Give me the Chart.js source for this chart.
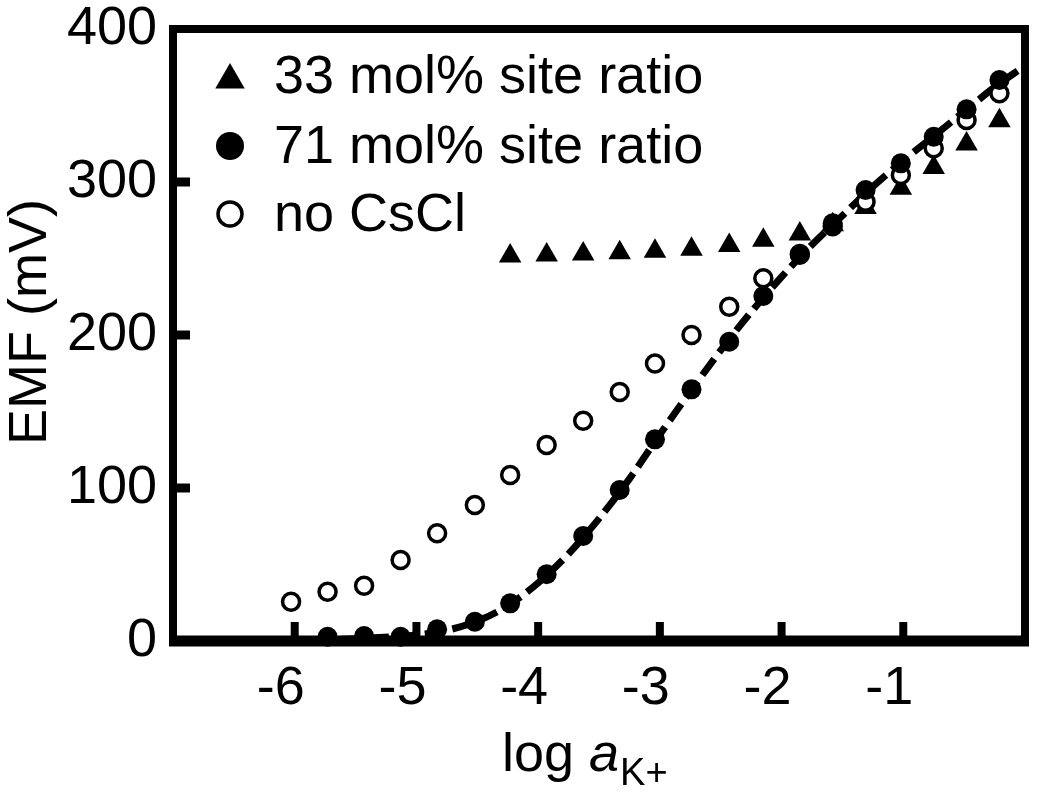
<!DOCTYPE html>
<html>
<head>
<meta charset="utf-8">
<script src="https://cdn.jsdelivr.net/npm/chart.js@4/dist/chart.umd.min.js"></script>
<style>
  html, body { margin: 0; padding: 0; background: #fff; }
  #wrap { width: 1050px; height: 805px; }
</style>
</head>
<body>
<div id="wrap"><canvas id="chart" width="1050" height="805"></canvas></div>
<script>
// log a(K+) of each standard
const logA = [-6.03, -5.73, -5.43, -5.13, -4.83, -4.52, -4.23, -3.93, -3.63, -3.33,
              -3.04, -2.74, -2.43, -2.15, -1.85, -1.58, -1.31, -1.02, -0.75, -0.48, -0.21];

// EMF (mV)
const noCsCl = [25.7, 32.2, 36.1, 52.9, 70.4, 88.9, 108.5, 128.1, 144.0, 162.7,
                181.4, 200.0, 218.5, 237.1, 253.0, 271.0, 287.1, 304.6, 322.0, 340.5, 358.0];
const site71 = [null, 2.8, 3.3, 2.8, 7.6, 12.6, 24.6, 43.6, 68.6, 98.7,
                131.8, 164.5, 195.6, 225.5, 252.3, 273.0, 294.8, 312.2, 329.6, 347.5, 366.7];
const site33 = [null, null, null, null, null, null, 251.6, 252.3, 252.9, 253.7,
                254.7, 256.0, 258.5, 261.9, 266.0, 272.0, 283.3, 295.9, 309.5, 324.8, 340.0];

// fitted response curve for 71 mol%
const fitX = [-7, -6, -5.5, -5, -4.75, -4.5, -4.25, -4, -3.75, -3.5, -3.25, -3,
              -2.75, -2.5, -2.25, -2, -1.75, -1.5, -1.25, -1, -0.75, -0.5, -0.25, 0];
const fitY = [0, 0.5, 1.5, 4, 7, 13, 23, 38, 57, 80, 106, 135,
              163, 190, 215, 238, 259, 278, 297, 314, 330, 346, 362, 376];

const xTicks = [-6, -5, -4, -3, -2, -1];
const yTicks = [100, 200, 300];

const FONT = '"Liberation Sans", Arial, Helvetica, sans-serif';
Chart.defaults.font.family = FONT;
Chart.defaults.color = "#000";

const pts = (xs, ys) => xs.map((x, i) => ({ x: x, y: ys[i] })).filter(p => p.y !== null);

// frame, inward ticks, legend and axis titles
const decor = {
    id: "decor",
    beforeDatasetsDraw(chart) {
        const { ctx, chartArea: a, scales } = chart;
        ctx.save();
        ctx.strokeStyle = "#000";
        ctx.lineWidth = 8;
        ctx.strokeRect(a.left, a.top, a.right - a.left, a.bottom - a.top);
        ctx.lineWidth = 11;
        ctx.beginPath();
        ctx.moveTo(a.left - 4, a.bottom);
        ctx.lineTo(a.right + 4, a.bottom);
        ctx.stroke();

        ctx.lineWidth = 8;
        xTicks.forEach(v => {
            const px = scales.x.getPixelForValue(v);
            ctx.beginPath();
            ctx.moveTo(px, a.bottom);
            ctx.lineTo(px, a.bottom - 19);
            ctx.stroke();
        });
        ctx.lineWidth = 9;
        yTicks.forEach(v => {
            const py = scales.y.getPixelForValue(v);
            ctx.beginPath();
            ctx.moveTo(a.left, py);
            ctx.lineTo(a.left + 17, py);
            ctx.stroke();
        });
        ctx.restore();
    },
    afterDraw(chart) {
        const { ctx } = chart;
        ctx.save();
        ctx.fillStyle = "#000";
        ctx.strokeStyle = "#000";

        // legend
        const items = [
            { text: "33 mol% site ratio", style: "triangle", r: 17, fill: "#000", bw: 0, y: 76, dy: 4 },
            { text: "71 mol% site ratio", style: "circle", r: 14, fill: "#000", bw: 0, y: 146, dy: 0 },
            { text: "no CsCl", style: "circle", r: 12, fill: "#fff", bw: 3.5, y: 214, dy: 0 },
        ];
        ctx.font = "54px " + FONT;
        ctx.textBaseline = "middle";
        ctx.textAlign = "left";
        items.forEach(it => {
            ctx.fillStyle = it.fill;
            ctx.lineWidth = it.bw;
            Chart.helpers.drawPoint(ctx, { pointStyle: it.style, radius: it.r, rotation: 0, borderWidth: it.bw }, 230, it.y + it.dy);
            ctx.fillStyle = "#000";
            ctx.fillText(it.text, 274, it.y + 2);
        });

        // y title
        ctx.save();
        ctx.translate(31, 322);
        ctx.rotate(-Math.PI / 2);
        ctx.textAlign = "center";
        ctx.textBaseline = "middle";
        ctx.font = "54px " + FONT;
        ctx.fillText("EMF (mV)", 0, 0);
        ctx.restore();

        // x title: log a_K+
        ctx.textBaseline = "alphabetic";
        const base = 771;
        let x = 502;
        ctx.font = "54px " + FONT;
        ctx.fillText("log ", x, base);
        x += ctx.measureText("log ").width;
        ctx.font = "italic 54px " + FONT;
        ctx.fillText("a", x, base);
        x += ctx.measureText("a").width + 1;
        ctx.font = "38px " + FONT;
        ctx.fillText("K+", x, base + 14);
        ctx.restore();
    }
};

const chart = document.getElementById("chart");

new Chart(chart, {
    type: "scatter",
    data: {
        datasets: [
            {
                label: "fit",
                data: pts(fitX, fitY),
                showLine: true,
                borderColor: "#000",
                borderWidth: 7,
                borderDash: [20, 8],
                cubicInterpolationMode: "monotone",
                pointRadius: 0,
                order: 4,
            },
            {
                label: "33 mol% site ratio",
                data: pts(logA, site33),
                pointStyle: "triangle",
                pointRadius: 13,
                backgroundColor: "#000",
                borderColor: "#000",
                borderWidth: 0,
                order: 3,
            },
            {
                label: "no CsCl",
                data: pts(logA, noCsCl),
                pointStyle: "circle",
                pointRadius: 8.5,
                backgroundColor: "#fff",
                borderColor: "#000",
                borderWidth: 3.5,
                order: 2,
            },
            {
                label: "71 mol% site ratio",
                data: pts(logA, site71),
                pointStyle: "circle",
                pointRadius: 10,
                backgroundColor: "#000",
                borderColor: "#000",
                borderWidth: 0,
                order: 1,
            },
        ],
    },
    options: {
        responsive: false,
        animation: false,
        clip: false,
        layout: { padding: { top: 29, right: 25, left: 0, bottom: 0 } },
        plugins: {
            legend: { display: false },
            tooltip: { enabled: false },
        },
        scales: {
            x: {
                type: "linear",
                min: -7,
                max: 0,
                afterFit: s => { s.height = 164; s.paddingLeft = 0; s.paddingRight = 0; },
                grid: { display: false, drawTicks: false },
                border: { display: false },
                ticks: {
                    stepSize: 1,
                    padding: 16,
                    labelOffset: -14,
                    font: { size: 54 },
                    callback: v => (v <= -7 || v >= 0 ? "" : String(v)),
                },
            },
            y: {
                min: 0,
                max: 400,
                afterFit: s => { s.width = 173; s.paddingTop = 0; s.paddingBottom = 0; },
                grid: { display: false, drawTicks: false },
                border: { display: false },
                ticks: {
                    stepSize: 100,
                    padding: 16,
                    font: { size: 54 },
                },
            },
        },
    },
    plugins: [decor],
});
</script>
</body>
</html>
